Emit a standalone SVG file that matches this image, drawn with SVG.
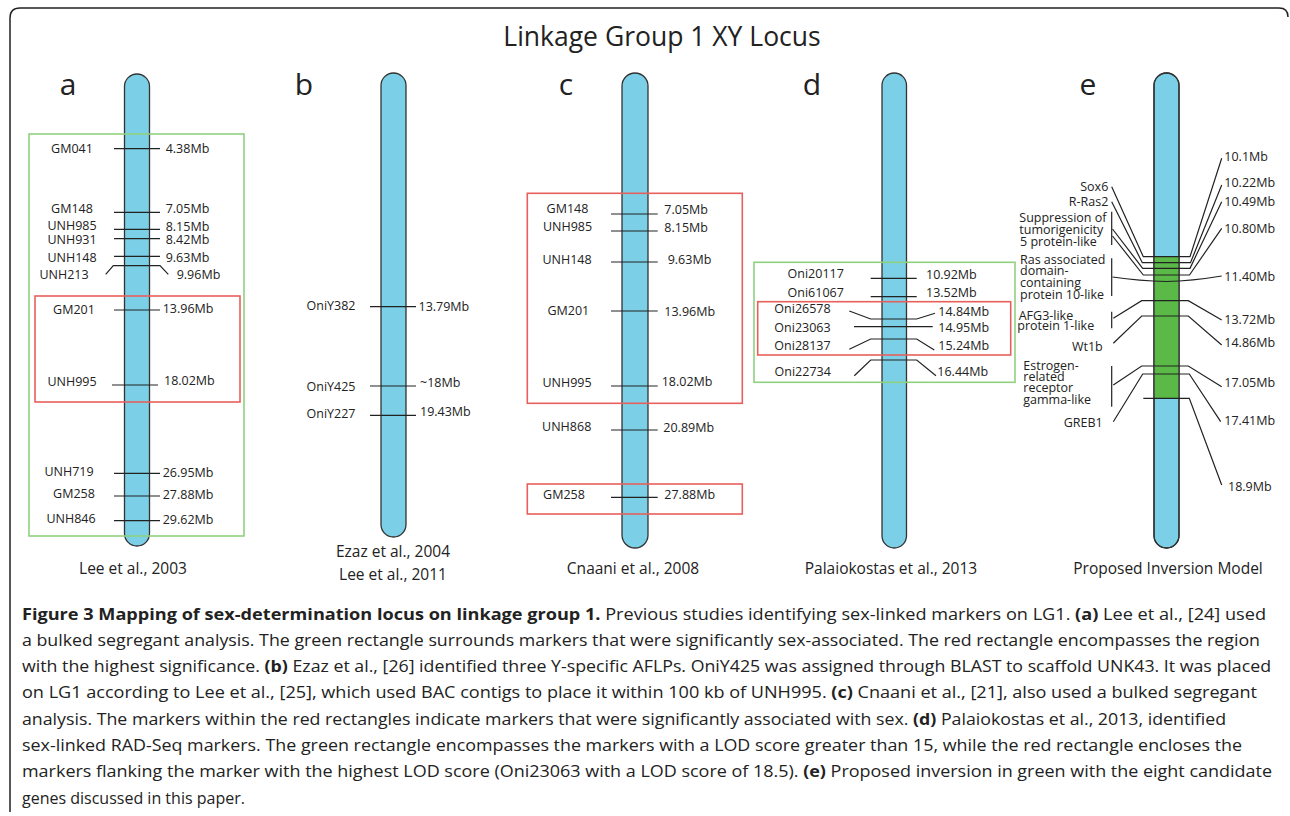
<svg xmlns="http://www.w3.org/2000/svg" width="1290" height="816" viewBox="0 0 1290 816">
<style>
.chr{fill:#7bcfe6;stroke:#333;stroke-width:1.3}
.chro{fill:none;stroke:#333;stroke-width:1.3}
.inv{fill:#5bb948}
.mk{stroke:#222;stroke-width:1.2;fill:none}
.grn{fill:none;stroke:#8fd17f;stroke-width:1.6}
.red{fill:none;stroke:#e8605c;stroke-width:1.6}
text{font-family:'Open Sans','Liberation Sans',sans-serif;fill:#222}
.l{font-size:12.5px}
.m{text-anchor:middle}
.e{text-anchor:end}
.src{font-size:15.5px;text-anchor:middle}
.let{font-size:30px;text-anchor:middle}
.cap{font-size:16px}
.b{font-weight:700}
</style>
<rect width="1290" height="816" fill="#fff"/>
<path d="M10,812 V18 Q10,8 20,8 H1279 Q1288,8 1288,17" fill="none" stroke="#222" stroke-width="1.5"/>
<text x="662" y="46" font-size="26.5" text-anchor="middle">Linkage Group 1 XY Locus</text>

<g id="panel-a">
<text class="let" x="68" y="95">a</text>
<rect class="chr" x="124.5" y="74" width="25" height="472" rx="12.5"/>
<rect class="grn" x="29" y="134" width="215" height="402"/>
<rect class="red" x="35" y="296" width="205" height="106"/>
<text class="l m" x="72" y="153.3">GM041</text>
<text class="l m" x="72" y="213">GM148</text>
<text class="l m" x="72" y="230">UNH985</text>
<text class="l m" x="72" y="244">UNH931</text>
<text class="l m" x="72" y="262">UNH148</text>
<text class="l m" x="64" y="279">UNH213</text>
<text class="l m" x="74" y="314">GM201</text>
<text class="l m" x="72" y="385.5">UNH995</text>
<text class="l m" x="69" y="476">UNH719</text>
<text class="l m" x="74" y="498">GM258</text>
<text class="l m" x="71" y="523">UNH846</text>
<text class="l" x="165.7" y="153.3">4.38Mb</text>
<text class="l" x="165.7" y="213.3">7.05Mb</text>
<text class="l" x="165.7" y="231">8.15Mb</text>
<text class="l" x="165.7" y="244">8.42Mb</text>
<text class="l" x="165.7" y="262.3">9.63Mb</text>
<text class="l" x="176.7" y="279">9.96Mb</text>
<text class="l" x="162.7" y="312.7">13.96Mb</text>
<text class="l" x="164" y="385">18.02Mb</text>
<text class="l" x="162.7" y="476.7">26.95Mb</text>
<text class="l" x="162.7" y="499.3">27.88Mb</text>
<text class="l" x="162.7" y="524">29.62Mb</text>
<text class="src" x="133" y="574">Lee et al., 2003</text>
</g>

<g id="panel-b">
<text class="let" x="304" y="95">b</text>
<rect class="chr" x="381" y="73" width="25" height="464" rx="12.5"/>
<text class="l m" x="331" y="309.5">OniY382</text>
<text class="l m" x="331" y="391">OniY425</text>
<text class="l m" x="331" y="417.5">OniY227</text>
<text class="l" x="418.5" y="310.5">13.79Mb</text>
<text class="l" x="420" y="387">~18Mb</text>
<text class="l" x="420" y="416">19.43Mb</text>
<text class="src" x="393" y="557">Ezaz et al., 2004</text>
<text class="src" x="393" y="580">Lee et al., 2011</text>
</g>

<g id="panel-c">
<text class="let" x="566" y="95">c</text>
<rect class="chr" x="622" y="73" width="26" height="475" rx="13"/>
<rect class="red" x="527.3" y="193.3" width="215" height="210"/>
<rect class="red" x="527.3" y="484" width="215" height="30"/>
<text class="l m" x="567.5" y="212.8">GM148</text>
<text class="l m" x="567.5" y="231.2">UNH985</text>
<text class="l m" x="567" y="263.5">UNH148</text>
<text class="l m" x="568.3" y="315.2">GM201</text>
<text class="l m" x="567" y="386.8">UNH995</text>
<text class="l m" x="566.7" y="431.2">UNH868</text>
<text class="l m" x="564" y="498.5">GM258</text>
<text class="l" x="664.3" y="213.8">7.05Mb</text>
<text class="l" x="664.3" y="231.5">8.15Mb</text>
<text class="l" x="667.7" y="263.5">9.63Mb</text>
<text class="l" x="664.3" y="315.5">13.96Mb</text>
<text class="l" x="661.7" y="385.5">18.02Mb</text>
<text class="l" x="663.3" y="431.5">20.89Mb</text>
<text class="l" x="664.3" y="498.8">27.88Mb</text>
<text class="src" x="633" y="574">Cnaani et al., 2008</text>
</g>

<g id="panel-d">
<text class="let" x="812" y="95">d</text>
<rect class="chr" x="882" y="73" width="24.5" height="475" rx="12.25"/>
<rect class="grn" x="754" y="262.3" width="261" height="120"/>
<rect class="red" x="757.7" y="301.7" width="253" height="53.3"/>
<text class="l m" x="815.7" y="277.8">Oni20117</text>
<text class="l m" x="815.7" y="296.8">Oni61067</text>
<text class="l m" x="802.5" y="312.8">Oni26578</text>
<text class="l m" x="802.5" y="331.8">Oni23063</text>
<text class="l m" x="802.5" y="349.5">Oni28137</text>
<text class="l m" x="802.7" y="376.2">Oni22734</text>
<text class="l" x="926" y="278.5">10.92Mb</text>
<text class="l" x="926" y="297.2">13.52Mb</text>
<text class="l" x="938.3" y="315.5">14.84Mb</text>
<text class="l" x="938.3" y="331.8">14.95Mb</text>
<text class="l" x="938.3" y="349.5">15.24Mb</text>
<text class="l" x="937.3" y="376.2">16.44Mb</text>
<text class="src" x="891" y="574">Palaiokostas et al., 2013</text>
</g>

<g id="panel-e">
<text class="let" x="1088" y="95">e</text>
<rect class="chr" x="1154" y="73" width="25" height="475" rx="12.5"/>
<rect class="inv" x="1154" y="256.7" width="25" height="141.6"/>
<rect class="chro" x="1154" y="73" width="25" height="475" rx="12.5"/>
<text class="l e" x="1108.3" y="191.2">Sox6</text>
<text class="l e" x="1108.3" y="206.2">R-Ras2</text>
<text class="l" x="1019.3" y="221.5">Suppression of</text>
<text class="l" x="1019.3" y="234">tumorigenicity</text>
<text class="l" x="1020" y="246">5 protein-like</text>
<text class="l" x="1020" y="264">Ras associated</text>
<text class="l" x="1020" y="275">domain-</text>
<text class="l" x="1020" y="286.5">containing</text>
<text class="l" x="1020" y="299">protein 10-like</text>
<text class="l" x="1018.7" y="319.5">AFG3-like</text>
<text class="l" x="1017.3" y="330">protein 1-like</text>
<text class="l e" x="1102.7" y="351.2">Wt1b</text>
<text class="l" x="1023.3" y="369.5">Estrogen-</text>
<text class="l" x="1023.3" y="380.8">related</text>
<text class="l" x="1023.3" y="392">receptor</text>
<text class="l" x="1023.3" y="403.5">gamma-like</text>
<text class="l e" x="1102.7" y="427.2">GREB1</text>
<text class="l" x="1224.3" y="160.5">10.1Mb</text>
<text class="l" x="1224.3" y="186.8">10.22Mb</text>
<text class="l" x="1224.3" y="205.5">10.49Mb</text>
<text class="l" x="1224.3" y="232.8">10.80Mb</text>
<text class="l" x="1224.3" y="280.5">11.40Mb</text>
<text class="l" x="1224.3" y="323.5">13.72Mb</text>
<text class="l" x="1224.3" y="346.8">14.86Mb</text>
<text class="l" x="1224.3" y="387.2">17.05Mb</text>
<text class="l" x="1224.3" y="424.5">17.41Mb</text>
<text class="l" x="1228" y="491.2">18.9Mb</text>
<text class="src" x="1168" y="574">Proposed Inversion Model</text>
</g>

<g id="connectors">
<path class="mk" d="M114,148.7H160 M114,212.3H160 M114,229.3H160 M114,238.7H160 M114,256.3H160 M105.7,274.3L113.3,265.7H160L168.3,274.3 M114,310H160 M112,385H158 M114,473.3H160 M114,496H160 M114,520.7H160"/>
<path class="mk" d="M370,306.7H416 M370,386H416 M370,415.3H416"/>
<path class="mk" d="M611,214H657.7 M611,231H657.7 M611,262H657.7 M611,311H657.7 M611,386H657.7 M611,430H657.7 M611,497.3H657.7"/>
<path class="mk" d="M870.7,278.3H916.7 M870.7,296.7H916.7 M849.3,311L870.7,319H916.7L935,313.3 M854,326.7H932.7 M849.3,349.3L870.7,339H916.7L934.3,350 M854.3,375.7L870.7,360H916.7L936,375.7"/>
<path class="mk" d="M1111.7,211.7V245 M1111.7,258.3V296 M1111.7,311.7V328.3 M1111.7,366V406.7"/>
<path class="mk" d="M1111.7,186.7L1143.3,256.7H1190L1221.7,158.3 M1111.7,201.7L1142.3,262.7H1190.5L1221.7,185 M1112.5,229L1142.7,268.3H1190L1221.7,201.7 M1112.5,236L1143.3,275H1189.5L1221.7,228.3 M1112.5,277Q1140,281 1166,281.5Q1192,281 1221.7,276"/>
<path class="mk" d="M1113.3,318.3L1141.7,300.7H1188.3L1221.7,320 M1113.3,343.3L1141.7,316H1188.3L1221.7,345 M1113.3,385L1141.7,366H1188.3L1221.7,386.7 M1113.3,421.7L1142.7,374H1189.3L1220.7,421.7 M1143.3,398.3H1189.3L1221.7,485"/>
</g>

<g id="caption">
<text class="cap" x="22" y="619.5" textLength="1244" lengthAdjust="spacingAndGlyphs"><tspan class="b">Figure 3 Mapping of sex-determination locus on linkage group 1.</tspan> Previous studies identifying sex-linked markers on LG1. <tspan class="b">(a)</tspan> Lee et al., [24] used</text>
<text class="cap" x="22" y="645.8" textLength="1238" lengthAdjust="spacingAndGlyphs">a bulked segregant analysis. The green rectangle surrounds markers that were significantly sex-associated. The red rectangle encompasses the region</text>
<text class="cap" x="22" y="672.1" textLength="1249" lengthAdjust="spacingAndGlyphs">with the highest significance. <tspan class="b">(b)</tspan> Ezaz et al., [26] identified three Y-specific AFLPs. OniY425 was assigned through BLAST to scaffold UNK43. It was placed</text>
<text class="cap" x="22" y="698.4" textLength="1235" lengthAdjust="spacingAndGlyphs">on LG1 according to Lee et al., [25], which used BAC contigs to place it within 100 kb of UNH995. <tspan class="b">(c)</tspan> Cnaani et al., [21], also used a bulked segregant</text>
<text class="cap" x="22" y="724.7" textLength="1204" lengthAdjust="spacingAndGlyphs">analysis. The markers within the red rectangles indicate markers that were significantly associated with sex. <tspan class="b">(d)</tspan> Palaiokostas et al., 2013, identified</text>
<text class="cap" x="22" y="751" textLength="1220" lengthAdjust="spacingAndGlyphs">sex-linked RAD-Seq markers. The green rectangle encompasses the markers with a LOD score greater than 15, while the red rectangle encloses the</text>
<text class="cap" x="22" y="777.3" textLength="1250" lengthAdjust="spacingAndGlyphs">markers flanking the marker with the highest LOD score (Oni23063 with a LOD score of 18.5). <tspan class="b">(e)</tspan> Proposed inversion in green with the eight candidate</text>
<text class="cap" x="22" y="803.6">genes discussed in this paper.</text>
</g>
</svg>
